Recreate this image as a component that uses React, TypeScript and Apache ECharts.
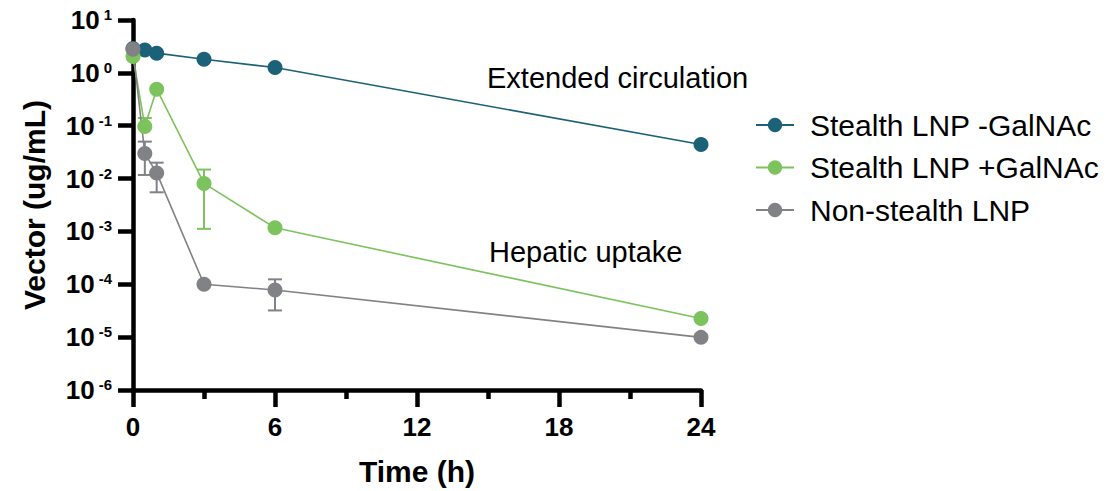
import React, { useEffect, useRef } from "react";
import * as echarts from "echarts";

const times = [0, 0.5, 1, 3, 6, 24];
const seriesNames = ["Stealth LNP -GalNAc", "Stealth LNP +GalNAc", "Non-stealth LNP"];
const stealthMinus = [2.9, 2.7, 2.36, 1.81, 1.26, 0.044];
const stealthPlus = [2.03, 0.097, 0.49, 0.0081, 0.00117, 2.25e-5];
const nonStealth = [2.8, 0.0297, 0.0128, 1.0e-4, 7.8e-5, 9.9e-6];
// error bars: [time, low, high]
const stealthPlusErr = [
  [0.5, 0.097, 0.14],
  [3, 0.00112, 0.0148],
];
const nonStealthErr = [
  [0.5, 0.0117, 0.05],
  [1, 0.0055, 0.02],
  [6, 3.2e-5, 1.24e-4],
];
const xTicks = [0, 6, 12, 18, 24];
const annotations = ["Extended circulation", "Hepatic uptake"];

const colors = ["#1b6177", "#7dc35d", "#808285"];
const FONT = "'Liberation Sans', Arial, sans-serif";

function errSeries(name: string, data: number[][], color: string) {
  return {
    type: "custom",
    name,
    data,
    encode: { x: 0, y: [1, 2] },
    z: 1,
    silent: true,
    renderItem: (params: any, api: any) => {
      const x = api.value(0);
      const lo = api.coord([x, api.value(1)]);
      const hi = api.coord([x, api.value(2)]);
      const hw = 7;
      const st = { stroke: color, lineWidth: 2 };
      return {
        type: "group",
        children: [
          { type: "line", shape: { x1: lo[0], y1: lo[1], x2: hi[0], y2: hi[1] }, style: st },
          { type: "line", shape: { x1: hi[0] - hw, y1: hi[1], x2: hi[0] + hw, y2: hi[1] }, style: st },
          { type: "line", shape: { x1: lo[0] - hw, y1: lo[1], x2: lo[0] + hw, y2: lo[1] }, style: st },
        ],
      };
    },
  };
}

export default function App() {
  const ref = useRef<HTMLDivElement>(null);
  useEffect(() => {
    if (!ref.current) return;
    const chart = echarts.init(ref.current, null, { renderer: "svg" });
    const values = [stealthMinus, stealthPlus, nonStealth];
    const lineSeries = values.map((vals, i) => ({
      type: "line",
      name: seriesNames[i],
      data: times.map((t, j) => [t, vals[j]]),
      symbol: "circle",
      symbolSize: 15,
      showSymbol: true,
      z: 2,
      itemStyle: { color: colors[i] },
      lineStyle: { color: colors[i], width: 1.6 },
    }));
    chart.setOption({
      animation: false,
      textStyle: { fontFamily: FONT },
      grid: { left: 133, right: 405, top: 20, bottom: 100, containLabel: false },
      legend: {
        data: seriesNames,
        orient: "vertical",
        left: 750,
        top: 105,
        itemWidth: 38,
        itemHeight: 18,
        itemGap: 12.5,
        textStyle: {
          fontSize: 30,
          fontFamily: FONT,
          color: "#000",
          lineHeight: 30,
          padding: [0, 0, 0, 11],
        },
      },
      xAxis: {
        type: "value",
        min: xTicks[0],
        max: xTicks[xTicks.length - 1],
        interval: 6,
        name: "Time (h)",
        nameLocation: "middle",
        nameGap: 66,
        nameTextStyle: { fontSize: 30, fontWeight: "bold", color: "#000", fontFamily: FONT },
        axisLine: { lineStyle: { color: "#000", width: 4.5 } },
        axisTick: { show: true, length: 17, lineStyle: { color: "#000", width: 4.5 } },
        minorTick: { show: true, splitNumber: 2, length: 9, lineStyle: { color: "#000", width: 4.5 } },
        splitLine: { show: false },
        axisLabel: { fontSize: 26, fontWeight: "bold", color: "#000", margin: 24, fontFamily: FONT },
      },
      yAxis: {
        type: "log",
        logBase: 10,
        min: 1e-6,
        max: 10,
        interval: 1,
        name: "Vector (ug/mL)",
        nameLocation: "middle",
        nameGap: 84,
        nameTextStyle: { fontSize: 30, fontWeight: "bold", color: "#000", fontFamily: FONT },
        axisLine: { show: true, lineStyle: { color: "#000", width: 4.5 } },
        axisTick: { show: true, length: 15, lineStyle: { color: "#000", width: 4.5 } },
        splitLine: { show: false },
        axisLabel: {
          margin: 21,
          formatter: (v: number) => {
            const e = Math.round(Math.log10(v));
            return `{a|10}{b|${e}}`;
          },
          rich: {
            a: { fontSize: 26, fontWeight: "bold", color: "#000", fontFamily: FONT },
            b: { fontSize: 15, fontWeight: "bold", color: "#000", fontFamily: FONT, verticalAlign: "top", padding: [0, 0, 0, 4] },
          },
        },
      },
      graphic: [
        {
          type: "text",
          left: 487,
          top: 63,
          style: { text: annotations[0], fontSize: 29, fontFamily: FONT, fill: "#000" },
        },
        {
          type: "text",
          left: 489,
          top: 237,
          style: { text: annotations[1], fontSize: 29, fontFamily: FONT, fill: "#000" },
        },
      ],
      series: [
        ...lineSeries,
        errSeries("err-plus", stealthPlusErr, colors[1]),
        errSeries("err-non", nonStealthErr, colors[2]),
      ],
    });
    return () => chart.dispose();
  }, []);
  return <div ref={ref} style={{ width: 1106, height: 491, position: "absolute", left: 0, top: 0 }} />;
}
